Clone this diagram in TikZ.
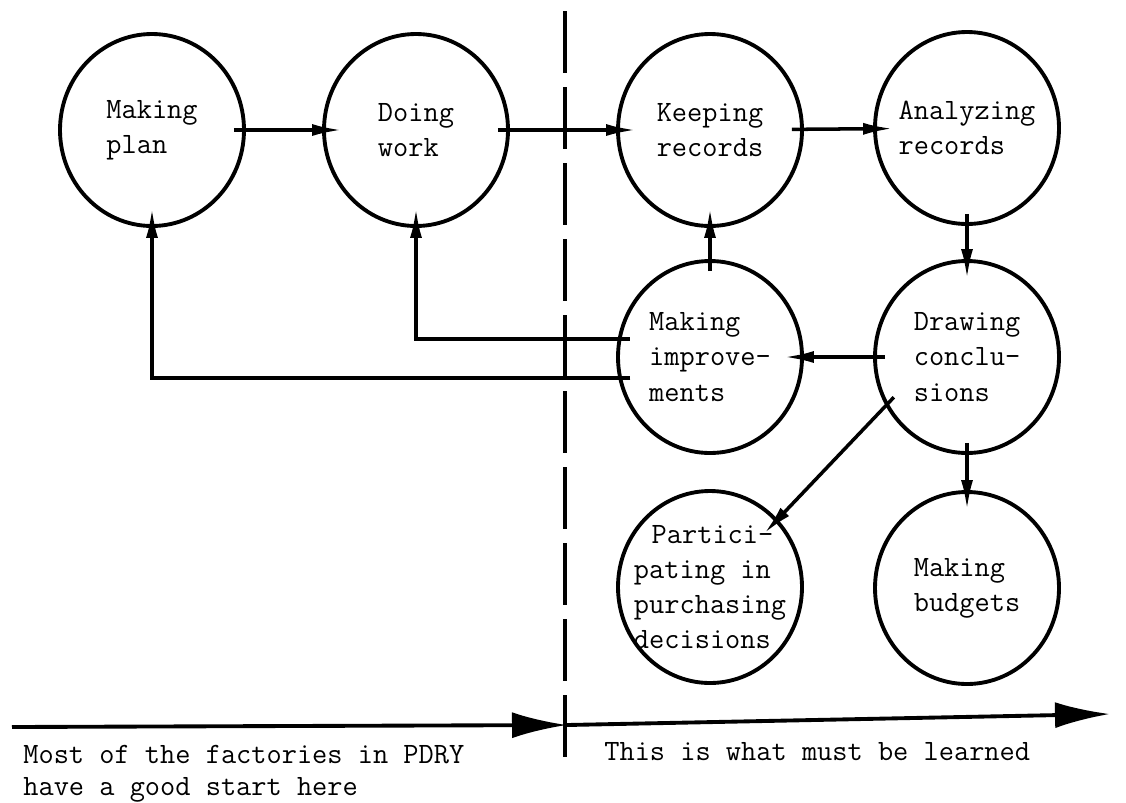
\documentclass[tikz,border=0pt]{standalone}
\usepackage{fontspec}
\usepackage{tikz}
\usetikzlibrary{arrows.meta, shapes.geometric}

\begin{document}
\begin{tikzpicture}[
    every node/.style={font=\ttfamily\fontsize{16.8pt}{20pt}\selectfont},
    stage/.style={ellipse, draw, line width=2.2pt, minimum width=3.68cm, minimum height=3.84cm, inner sep=0pt},
    stagetext/.style={align=left, inner sep=0pt},
    flow/.style={line width=2pt, -{Latex[length=0.6cm, width=0.24cm]}, shorten <=-0.24cm, shorten >=-0.4cm},
    bigflow/.style={line width=2.2pt, -{Latex[length=1.1cm, width=0.52cm]}},
    divider/.style={line width=2.2pt, dash pattern=on 1.24cm off 0.28cm}
]
\useasboundingbox (0,0) rectangle (22.52,-16.04);
% learning cycle: left part already done, right part still to learn
\node[stage] (plan)    at (3.04,-2.60)  {};
\node[stage] (work)    at (8.32,-2.60)  {};
\node[stage] (keep)    at (14.20,-2.60) {};
\node[stage] (analyze) at (19.34,-2.56) {};
\node[stage] (improve) at (14.20,-7.14) {};
\node[stage] (concl)   at (19.34,-7.14) {};
\node[stage] (purch)   at (14.20,-11.74) {};
\node[stage] (budget)  at (19.34,-11.76) {};
\node[stagetext] (plan-t)    at (plan)    {Making\\plan};
\node[stagetext] (work-t)    at (work)    {Doing\\work};
\node[stagetext] (keep-t)    at (keep)    {Keeping\\records};
\node[stagetext] (analyze-t) at (analyze) {Analyzing\\records};
\node[stagetext] (improve-t) at (improve) {Making\\improve-\\ments};
\node[stagetext] (concl-t)   at (concl)   {Drawing\\conclu-\\sions};
\node[stagetext] (purch-t)   at (purch)   {\hspace*{0.6em}Partici-\\pating in\\purchasing\\decisions};
\node[stagetext] (budget-t)  at (budget)  {Making\\budgets};
\draw[flow] (plan) -- (work);
\draw[flow] (work) -- (keep);
\draw[flow] (keep) -- (analyze);
\draw[flow] (analyze) -- (concl);
\draw[flow] (concl) -- (improve);
\draw[flow] (improve) -- (keep);
\draw[flow] (concl) -- (budget);
\draw[flow] (concl.211) -- (purch.45);
\draw[flow] (improve.169) -| (work.south);
\draw[flow] (improve.193) -| (plan.south);
% divider and time line
\coordinate (divtop) at (11.30,-0.22);
\coordinate (divbot) at (11.30,-15.40);
\draw[divider] (divtop) -- (divbot);
\coordinate (start)  at (0.24,-14.54);
\coordinate (mid)    at (11.34,-14.50);
\coordinate (finish) at (22.20,-14.28);
\draw[bigflow] (start) -- (mid);
\draw[bigflow] (mid) -- (finish);
\node[stagetext, anchor=base west, font=\ttfamily\fontsize{16.8pt}{18.2pt}\selectfont] (donetext) at (0.46,-15.90) {Most of the factories in PDRY\\have a good start here};
\node[stagetext, anchor=base west] (learntext) at (12.08,-15.20) {This is what must be learned};
\end{tikzpicture}
\end{document}
